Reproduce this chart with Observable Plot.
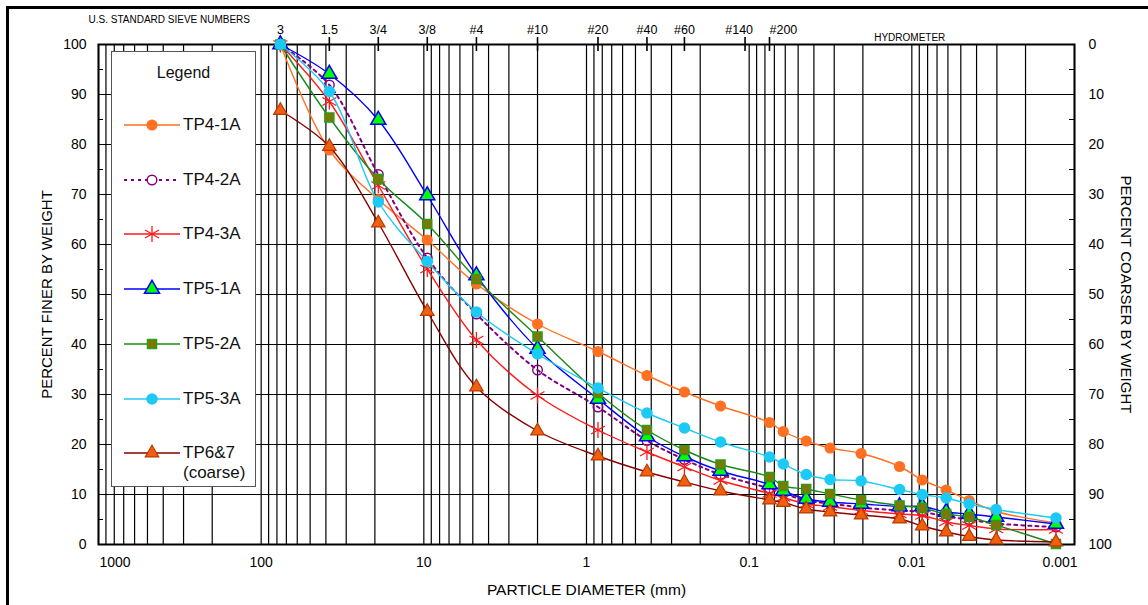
<!DOCTYPE html>
<html><head><meta charset="utf-8">
<script src="https://cdn.jsdelivr.net/npm/d3@7"></script>
<script src="https://cdn.jsdelivr.net/npm/@observablehq/plot@0.6"></script>
<style>
body{margin:0;background:#fff;font-family:Arial,"Liberation Sans",sans-serif;}
#wrap{position:relative;width:1148px;height:605px;overflow:hidden;background:#fff;}
#chart{position:absolute;left:0;top:0;}
#border{position:absolute;left:6px;top:6px;width:1300px;height:800px;border:3px solid #000;box-sizing:border-box;pointer-events:none;}
#legend{position:absolute;left:111px;top:51px;width:145px;height:436px;box-sizing:border-box;border:1.5px solid #555;background:#fff;}
#legend .ttl{position:absolute;left:0;width:100%;top:11px;text-align:center;font-size:16px;line-height:20px;color:#111;}
#legend .item{position:absolute;left:0;width:100%;height:20px;}
#legend .item svg{position:absolute;left:12px;top:0;}
#legend .item .lbl{position:absolute;left:71px;top:0;font-size:17px;line-height:20px;color:#111;white-space:nowrap;}
</style></head><body>
<div id="wrap"><div id="chart"></div><div id="border"></div><div id="legend"></div></div>
<script>
// ---- data ----
const diameters = [76.2, 38.1, 19.05, 9.525, 4.75, 2.0, 0.85, 0.425, 0.25, 0.15, 0.075,
                   0.0617, 0.0446, 0.0318, 0.0205, 0.0119, 0.00863, 0.00615, 0.00444, 0.00303, 0.0013];
const names = ["TP4-1A", "TP4-2A", "TP4-3A", "TP5-1A", "TP5-2A", "TP5-3A", "TP6&7"];
const tp4_1A = [100, 78.9, 69.0, 60.9, 52.1, 44.1, 38.6, 33.8, 30.5, 27.7, 24.4, 22.6, 20.7, 19.3, 18.2, 15.6, 12.9, 10.9, 8.8, 6.6, 4.3];
const tp4_2A = [100, 91.9, 74.0, 57.3, 46.1, 34.9, 27.5, 20.8, 17.0, 14.0, 11.2, 10.2, 8.8, 8.2, 7.4, 6.8, 6.5, 5.6, 5.0, 4.2, 3.5];
const tp4_3A = [100, 88.6, 71.8, 55.1, 40.9, 29.8, 22.9, 18.5, 15.5, 12.8, 10.2, 9.4, 8.1, 7.6, 6.8, 6.1, 5.8, 4.5, 3.8, 3.1, 3.0];
const tp5_1A = [100, 94.1, 84.9, 69.8, 53.8, 39.1, 29.1, 21.6, 17.6, 14.7, 12.0, 10.7, 9.1, 8.5, 8.1, 7.6, 7.6, 6.5, 6.1, 5.5, 4.1];
const tp5_2A = [100, 85.4, 73.1, 64.1, 53.1, 41.6, 30.3, 22.9, 18.9, 16.0, 13.5, 11.7, 11.1, 10.1, 8.9, 7.8, 7.3, 6.1, 5.5, 3.9, 0.1];
const tp5_3A = [100, 90.6, 68.5, 56.6, 46.5, 38.1, 31.3, 26.3, 23.3, 20.5, 17.5, 16.1, 14.0, 13.0, 12.7, 11.0, 10.0, 9.3, 8.1, 7.0, 5.3];
const tp6_7  = [86.8, 79.6, 64.3, 46.6, 31.5, 22.7, 17.7, 14.5, 12.5, 10.7, 8.9, 8.4, 7.1, 6.5, 5.9, 5.1, 3.7, 2.5, 1.6, 0.9, 0.5];
const seriesValues = [tp4_1A, tp4_2A, tp4_3A, tp5_1A, tp5_2A, tp5_3A, tp6_7];
const legendLabels = ["TP4-1A", "TP4-2A", "TP4-3A", "TP5-1A", "TP5-2A", "TP5-3A", "TP6&7\n(coarse)"];

const sieveLabels = ["3", "1.5", "3/4", "3/8", "#4", "#10", "#20", "#40", "#60", "#140", "#200"];
const sieveSizes  = [76.2, 38.1, 19.05, 9.525, 4.75, 2.0, 0.85, 0.425, 0.25, 0.106, 0.075];
const xTicks = [1000, 100, 10, 1, 0.1, 0.01, 0.001];
const yTicks = [0, 10, 20, 30, 40, 50, 60, 70, 80, 90, 100];
const yMinor = [5, 15, 25, 35, 45, 55, 65, 75, 85, 95];

// ---- styles ----
const styles = {
  "TP4-1A": {line: "#ff7022", dash: null, width: 1.4, symbol: "circle", r: 5.6, fill: "#ff7022", stroke: "none", sw: 0},
  "TP4-2A": {line: "#800080", dash: "3,4", width: 2, symbol: "circle", r: 4.8, fill: "none", stroke: "#800080", sw: 1.4},
  "TP4-3A": {line: "#ff1a1a", dash: null, width: 1.4, symbol: "asterisk", r: 7.6, fill: "none", stroke: "#ff1a1a", sw: 1.3},
  "TP5-1A": {line: "#0000ff", dash: null, width: 1.4, symbol: "triangle", r: 5.6, fill: "#00ff00", stroke: "#0000ff", sw: 1.5},
  "TP5-2A": {line: "#1a8a1a", dash: null, width: 1.4, symbol: "square", r: 5.2, fill: "#7a7a00", stroke: "#22a022", sw: 1.3},
  "TP5-3A": {line: "#1ccaf5", dash: null, width: 1.4, symbol: "circle", r: 5.8, fill: "#1ccaf5", stroke: "none", sw: 0},
  "TP6&7":  {line: "#8b0000", dash: null, width: 1.4, symbol: "triangle", r: 5.0, fill: "#f06010", stroke: "#b83c00", sw: 1.2}
};

const rows = names.flatMap((n, i) => seriesValues[i].map((p, j) => ({name: n, d: diameters[j], p})));

// log grid lines (1..9 x each decade)
const gridX = [];
for (let k = -3; k <= 2; k++) for (let m = 1; m <= 9; m++) gridX.push(m * Math.pow(10, k));
gridX.push(1000);

const font = 'Arial, "Liberation Sans", sans-serif';
const marks = [
  Plot.ruleX(gridX, {stroke: "#000", strokeWidth: 1.2}),
  Plot.ruleY(yTicks, {stroke: "#000", strokeWidth: 1.2}),
  Plot.tickY(yMinor, {insetRight: 971, stroke: "#000", strokeWidth: 1}),
  Plot.tickY(yMinor, {insetLeft: 971, stroke: "#000", strokeWidth: 1}),
  Plot.frame({stroke: "#000", strokeWidth: 2}),
  Plot.ruleX(sieveSizes, {y1: 98.6, y2: 101.4, stroke: "#000", strokeWidth: 1.6}),
  Plot.text(sieveLabels.slice(0, 9), {x: sieveSizes.slice(0, 9), y: 100, text: d => d, dy: -15, fontSize: 12.5}),
  Plot.text([sieveLabels[9]], {x: [sieveSizes[9]], y: 100, text: d => d, dy: -15, dx: 8, textAnchor: "end", fontSize: 12.5}),
  Plot.text([sieveLabels[10]], {x: [sieveSizes[10]], y: 100, text: d => d, dy: -15, dx: 0, textAnchor: "start", fontSize: 12.5}),
  Plot.text(["U.S. STANDARD SIEVE NUMBERS"], {frameAnchor: "top-left", textAnchor: "start", lineAnchor: "middle", dx: -10, dy: -25, fontSize: 10}),
  Plot.text(["HYDROMETER"], {x: [0.0103], y: 100, dy: -7, fontSize: 10}),
  Plot.axisX({ticks: xTicks.slice(1, -1), tickFormat: d => String(d), tickSize: 0, tickPadding: 13, label: null, fontSize: 14}),
  Plot.axisX({ticks: xTicks.slice(0, 1), tickFormat: d => String(d), tickSize: 0, tickPadding: 13, label: null, fontSize: 14, textAnchor: "start", dx: 1}),
  Plot.axisX({ticks: xTicks.slice(-1), tickFormat: d => String(d), tickSize: 0, tickPadding: 13, label: null, fontSize: 14, textAnchor: "end", dx: 3}),
  Plot.axisY({anchor: "left", ticks: yTicks, tickSize: 0, tickPadding: 12, label: null, fontSize: 14}),
  Plot.axisY({anchor: "right", ticks: yTicks, tickFormat: d => String(100 - d), tickSize: 0, tickPadding: 14, label: null, fontSize: 14}),
  Plot.text(["PERCENT FINER BY WEIGHT"], {frameAnchor: "left", textAnchor: "middle", lineAnchor: "middle", rotate: -90, dx: -51, fontSize: 15}),
  Plot.text(["PERCENT COARSER BY WEIGHT"], {frameAnchor: "right", textAnchor: "middle", lineAnchor: "middle", rotate: 90, dx: 51, fontSize: 15}),
  Plot.text(["PARTICLE DIAMETER (mm)"], {frameAnchor: "bottom", lineAnchor: "middle", dy: 46, fontSize: 15.5})
];

for (const n of names) {
  const s = styles[n];
  const data = rows.filter(r => r.name === n);
  marks.push(Plot.line(data, {x: "d", y: "p", stroke: s.line, strokeWidth: s.width, curve: "catmull-rom",
    strokeDasharray: s.dash || undefined}));
  marks.push(Plot.dot(data, {x: "d", y: "p", symbol: s.symbol, r: s.r, fill: s.fill, stroke: s.stroke, strokeWidth: s.sw}));
}

const chart = Plot.plot({
  width: 1148, height: 605,
  marginLeft: 98, marginRight: 74, marginTop: 44, marginBottom: 61,
  x: {type: "log", domain: [1000, 0.001]},
  y: {domain: [0, 100]},
  style: {fontFamily: font, fontSize: "14px", color: "#000", background: "transparent", overflow: "visible"},
  marks
});
document.getElementById("chart").appendChild(chart);

// ---- legend ----
const symMap = {circle: d3.symbolCircle, asterisk: d3.symbolAsterisk, triangle: d3.symbolTriangle, square: d3.symbolSquare};
const legend = document.getElementById("legend");
const ttl = document.createElement("div");
ttl.className = "ttl"; ttl.textContent = "Legend"; legend.appendChild(ttl);
names.forEach((n, i) => {
  const s = styles[n];
  const item = document.createElement("div");
  item.className = "item";
  item.style.top = (63 + i * 54.7) + "px";
  const svg = d3.create("svg").attr("width", 58).attr("height", 20);
  svg.append("line").attr("x1", 0).attr("x2", 56).attr("y1", 10).attr("y2", 10)
    .attr("stroke", s.line).attr("stroke-width", s.width).attr("stroke-dasharray", s.dash);
  svg.append("path").attr("transform", "translate(28,10)")
    .attr("d", d3.symbol().type(symMap[s.symbol]).size(Math.PI * s.r * s.r)())
    .attr("fill", s.fill === "none" ? (s.symbol === "circle" ? "#fff" : "none") : s.fill)
    .attr("stroke", s.stroke).attr("stroke-width", s.sw);
  item.appendChild(svg.node());
  const lbl = document.createElement("div");
  lbl.className = "lbl";
  lbl.innerHTML = legendLabels[i].split("\n").map(t => t.replace(/&/g, "&amp;")).join("<br>");
  item.appendChild(lbl);
  legend.appendChild(item);
});
</script>
</body></html>
